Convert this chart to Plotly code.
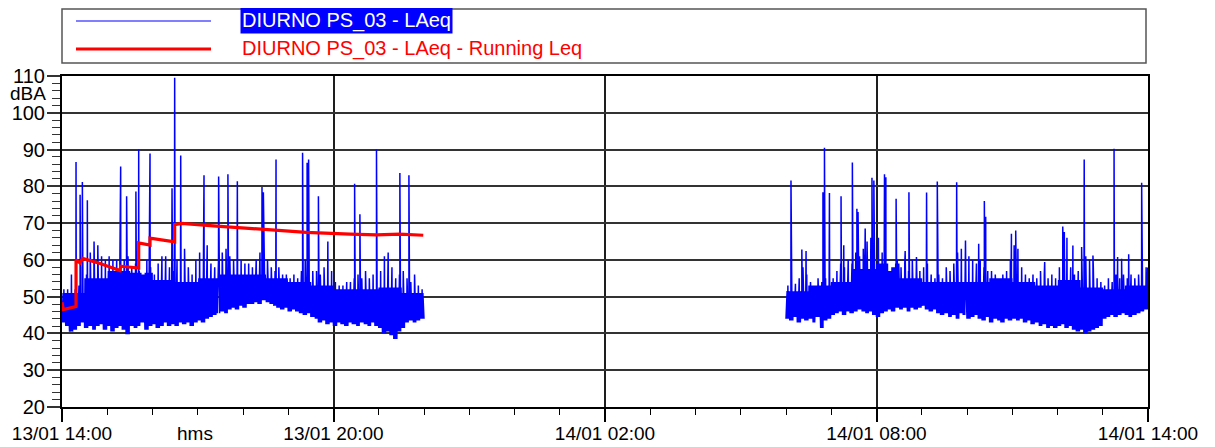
import pandas as pd
import plotly.graph_objects as go

# ---------------- data ----------------
SEG1_START = "2024-01-13 14:00"
SEG2_START = "2024-01-14 06:00"
BIN_MIN = 5     # minutes per envelope bin
CORE_MIN = 30   # minutes per core-level bin

# Segment 1 (13/01 14:00 - 22:00): band envelope per 5-minute bin (dBA)
seg1_low = [43, 42, 40.5, 41, 42, 43, 41.5, 42, 41, 42,
            42.5, 41, 42, 40.5, 41.5, 42, 41, 39.8, 42, 41.5,
            42, 43, 41, 42, 42.5, 41.5, 42, 43, 42, 42.5,
            42, 43, 42.5, 43, 42, 43, 43.5, 43, 44, 44.5,
            45, 45.5, 46, 45.5, 46.5, 47, 46.5, 47.5, 47, 48,
            48, 48.5, 48, 49, 48.5, 48, 47.5, 47, 46.5, 47,
            46, 46.5, 46, 45.5, 45, 45.5, 44.5, 44, 43, 43.5,
            42.5, 43, 42, 43, 42.5, 42, 43, 42.5, 42, 43,
            42.5, 42, 43, 42, 41.5, 40, 40.5, 39.5, 38.5, 40.5,
            41.5, 43, 43.5, 43, 43.5, 44]
seg1_high = [52, 52, 56, 52, 53, 55, 56, 62, 65, 64,
             61, 60, 61, 60, 60, 61, 60, 61, 58, 59,
             57, 56, 60, 58, 56, 59, 61, 61, 58, 57,
             60, 66, 63, 58, 56, 60, 62, 66, 64, 59,
             58, 60, 62, 63, 61, 60, 61, 60, 59, 59,
             58, 60, 62, 64, 60, 58, 57, 58, 56, 56,
             55, 56, 55, 57, 60, 59, 57, 57, 56, 58,
             65, 57, 54, 53, 53, 54, 54, 55, 56, 55,
             57, 55, 56, 56, 57, 61, 62, 58, 55, 56,
             57, 55, 54, 56, 53, 52]
# top of the solid part of the band, per 30 minutes
seg1_core = [51, 55, 57, 56.5, 54.5, 54, 55, 56, 56, 55, 54, 53, 52, 52, 52.5, 51]
# isolated peaks: minutes after 14:00, level
seg1_peak_min = [18.6, 24, 27, 33.6, 77.8, 85.7, 98, 101.7, 116.7, 145.9,
                 149.4, 157.4, 188.3, 207.7, 220, 232.5, 265.2, 267, 283.8, 319,
                 325, 327, 340, 388, 395, 417, 448, 460]
seg1_peak_db = [86.6, 77.7, 81.2, 76.2, 85.4, 77.3, 78.6, 90, 88.9, 79.5,
                109.5, 88.4, 83, 82.7, 83.3, 81.4, 79.8, 78.4, 87.3, 89.1,
                86.4, 87.3, 77.3, 80.7, 72.4, 90, 83.6, 83]

# Segment 2 (14/01 06:00 - 14:00)
seg2_low = [44, 43.5, 44.5, 43, 44, 43.5, 44, 43, 44.5, 41.5,
            43.5, 44, 45, 45.5, 46, 45, 46, 45.5, 46, 46.5,
            46, 45.5, 46, 45, 44.5, 45.5, 46, 46.5, 46, 47,
            46.5, 47, 46, 47, 46.5, 47, 47.5, 46.5, 46, 46.5,
            45.5, 45, 45.5, 44.5, 45, 44, 45.5, 45, 44, 44.5,
            45, 44, 43.5, 44.5, 43, 44, 43.5, 43, 44, 43.5,
            44, 43.5, 44, 43, 43.5, 42.5, 43, 42, 42.5, 41.5,
            42, 41.5, 42, 42.5, 41.5, 42, 41, 40.5, 41, 40,
            40.5, 41, 41.5, 42, 44, 44.5, 45, 44.5, 45, 45.5,
            45, 44.5, 45, 45.5, 46, 46.5]
seg2_high = [53, 54, 53.5, 55, 58, 56, 54, 53, 55, 54,
             55, 56, 55, 57, 59, 58, 60, 59, 62, 61,
             63, 65, 66, 67, 66, 62, 59, 57, 58, 60,
             58, 59, 57, 60, 56, 57, 58, 59, 56, 55,
             56, 55, 58, 57, 59, 62, 63, 65, 61, 60,
             59, 60, 58, 57, 57, 56, 55, 56, 57, 60,
             64, 63, 58, 56, 55, 56, 55, 57, 56, 55,
             56, 55, 58, 64, 66, 58, 56, 57, 58, 61,
             60, 58, 55, 54, 53, 55, 54, 56, 55, 56,
             55, 56, 55, 56, 57, 58]
seg2_core = [51.5, 53, 54, 57.5, 59, 55, 54, 54, 54, 55, 54, 53, 54.5, 52.5, 52, 53]
seg2_peak_min = [6.6, 21, 26.6, 49, 51, 57.6, 73, 76.6, 88, 94,
                 95.5, 105, 114, 116.5, 130.6, 132.4, 146, 158, 163, 173,
                 186.4, 200.6, 226.3, 238, 255.5, 263, 264.8, 298.9, 304.6, 343,
                 367, 369, 380.4, 392, 395.4, 407, 435, 439.7, 445, 454.4,
                 471.6, 479.6]
seg2_peak_db = [81.6, 62.8, 62.4, 78.4, 90.5, 78.2, 77.3, 64, 86.5, 73.9,
                73, 68.5, 82.3, 81.6, 83.3, 82.5, 76.6, 62.4, 78.4, 60.8,
                78.3, 81.3, 81.1, 65.3, 64.4, 76, 71.7, 67.1, 68, 59.4,
                69.1, 67.6, 63.9, 63.5, 87.3, 61.2, 90.2, 60.8, 60.3, 61.5,
                81, 57.9]

# Running Leq (minutes after 13/01 14:00)
run_min = [0, 1.8, 18.6, 18.6, 23.9, 27.4, 50.4, 76.9, 77.8, 101.7, 101.7,
           116.7, 116.7, 149.4, 149.4, 158.7, 205, 249, 280, 324, 382, 417, 448, 479]
run_db = [48.5, 46.5, 47.3, 60.0, 59.2, 60.4, 59.0, 57.1, 58.3, 57.8, 64.6,
          64.0, 65.9, 64.9, 69.6, 69.9, 69.2, 68.5, 68.0, 67.5, 67.0, 66.8, 67.0, 66.7]

x_tick_times = ["2024-01-13 14:00", "2024-01-13 20:00", "2024-01-14 02:00",
                "2024-01-14 08:00", "2024-01-14 14:00"]
x_tick_labels = ["13/01 14:00", "13/01 20:00", "14/01 02:00", "14/01 08:00", "14/01 14:00"]
y_ticks = [20, 30, 40, 50, 60, 70, 80, 90, 100, 110]

legend_labels = ["DIURNO PS_03 - LAeq", "DIURNO PS_03 - LAeq - Running Leq"]

BLUE = "#0000FF"
RED = "#FF0000"

# within each 5-minute bin, samples every 30 s alternate between the
# bin's low level and the solid-band top, with one excursion to the bin's max
PATTERN = ["low", "core", "low", "core", "low", "high", "low", "core", "low", "core"]


def build_series(start, low, high, core, pk_min, pk_db):
    pts = []
    step = BIN_MIN / len(PATTERN)
    for k in range(len(low)):
        c = min(core[int(k * BIN_MIN // CORE_MIN)], high[k])
        lv = {"low": low[k], "core": c, "high": high[k]}
        for j, kind in enumerate(PATTERN):
            pts.append((k * BIN_MIN + j * step, lv[kind]))
    pts.append((len(low) * BIN_MIN, low[-1]))
    pts += list(zip(pk_min, pk_db))
    pts.sort(key=lambda p: p[0])
    t0 = pd.Timestamp(start)
    xs = [t0 + pd.Timedelta(minutes=m) for m, _ in pts]
    ys = [v for _, v in pts]
    return xs, ys


x1, y1 = build_series(SEG1_START, seg1_low, seg1_high, seg1_core, seg1_peak_min, seg1_peak_db)
x2, y2 = build_series(SEG2_START, seg2_low, seg2_high, seg2_core, seg2_peak_min, seg2_peak_db)
blue_x = x1 + [None] + x2
blue_y = y1 + [None] + y2

t_start = pd.Timestamp(SEG1_START)
red_x = [t_start + pd.Timedelta(minutes=m) for m in run_min]

fig = go.Figure()
fig.add_trace(go.Scatter(x=blue_x, y=blue_y, mode="lines", connectgaps=False,
                         line=dict(color=BLUE, width=1.5), name=legend_labels[0],
                         showlegend=False))
fig.add_trace(go.Scatter(x=red_x, y=run_db, mode="lines",
                         line=dict(color=RED, width=3.2), name=legend_labels[1],
                         showlegend=False))

# page is offset by the browser's default 8px body margin
OFF = 8
PAGE_W, PAGE_H = 1215, 447
W, H = PAGE_W - OFF, PAGE_H - OFF
PLOT_L, PLOT_R, PLOT_T, PLOT_B = 62, 1148, 76, 407   # page pixels
ML, MT = PLOT_L - OFF, PLOT_T - OFF
MR = W - (PLOT_R - OFF)
MB = H - (PLOT_B - OFF)
PW, PH = PLOT_R - PLOT_L, PLOT_B - PLOT_T


def px(xp):
    return (xp - PLOT_L) / PW


def py(yp):
    return (PLOT_B - yp) / PH


FONT = "Liberation Sans, Arial, sans-serif"

shapes = [
    dict(type="rect", xref="paper", yref="paper", x0=px(62), x1=px(1146), y0=py(63), y1=py(9),
         line=dict(color="#555555", width=1.5), fillcolor="white", layer="above"),
    dict(type="line", xref="paper", yref="paper", x0=px(76), x1=px(211), y0=py(21), y1=py(21),
         line=dict(color=BLUE, width=1.2)),
    dict(type="line", xref="paper", yref="paper", x0=px(76), x1=px(211), y0=py(49), y1=py(49),
         line=dict(color=RED, width=3)),
]
annotations = [
    dict(text=legend_labels[0], xref="paper", yref="paper", x=px(240), y=py(20),
         xanchor="left", yanchor="middle", showarrow=False, bgcolor=BLUE,
         font=dict(family=FONT, size=20, color="white"), borderpad=1),
    dict(text=legend_labels[1], xref="paper", yref="paper", x=px(240), y=py(48),
         xanchor="left", yanchor="middle", showarrow=False,
         font=dict(family=FONT, size=20, color=RED)),
    dict(text="dBA", xref="paper", yref="paper", x=px(47), y=py(93.5),
         xanchor="right", yanchor="middle", showarrow=False, borderpad=0,
         font=dict(family=FONT, size=19, color="black")),
    dict(text="hms", xref="paper", yref="paper", x=px(195), y=py(433),
         xanchor="center", yanchor="middle", showarrow=False,
         font=dict(family=FONT, size=19, color="black")),
]

fig.update_layout(
    width=W, height=H, margin=dict(l=ML, r=MR, t=MT, b=MB, autoexpand=False),
    paper_bgcolor="white", plot_bgcolor="white", showlegend=False,
    shapes=shapes, annotations=annotations,
    xaxis=dict(type="date", range=[pd.Timestamp(x_tick_times[0]), pd.Timestamp(x_tick_times[-1])],
               automargin=False,
               tickmode="array", tickvals=[pd.Timestamp(t) for t in x_tick_times],
               ticktext=x_tick_labels, ticks="outside", ticklen=13, tickwidth=1.5,
               ticklabelstandoff=-5,
               tickcolor="black", showgrid=True, gridcolor="#1e1e1e", gridwidth=1.5,
               showline=True, linecolor="black", linewidth=2, mirror=True,
               zeroline=False, tickfont=dict(family=FONT, size=19, color="black"),
               minor=dict(dtick=3600000, tick0=pd.Timestamp(x_tick_times[0]), ticks="outside",
                          ticklen=6, tickwidth=1.2, tickcolor="black", showgrid=False)),
    yaxis=dict(range=[20, 110], tickmode="array", tickvals=y_ticks, automargin=False,
               ticks="outside", ticklen=13, tickwidth=1.5, tickcolor="#333333",
               ticklabelstandoff=-2,
               showgrid=True, gridcolor="#333333", gridwidth=1.8,
               showline=True, linecolor="black", linewidth=2, mirror=True, zeroline=False,
               tickfont=dict(family=FONT, size=20, color="black"),
               minor=dict(dtick=2, tick0=20, ticks="outside", ticklen=8, tickwidth=1.2,
                          tickcolor="#333333", showgrid=False)),
)

fig.write_html("out.html")
